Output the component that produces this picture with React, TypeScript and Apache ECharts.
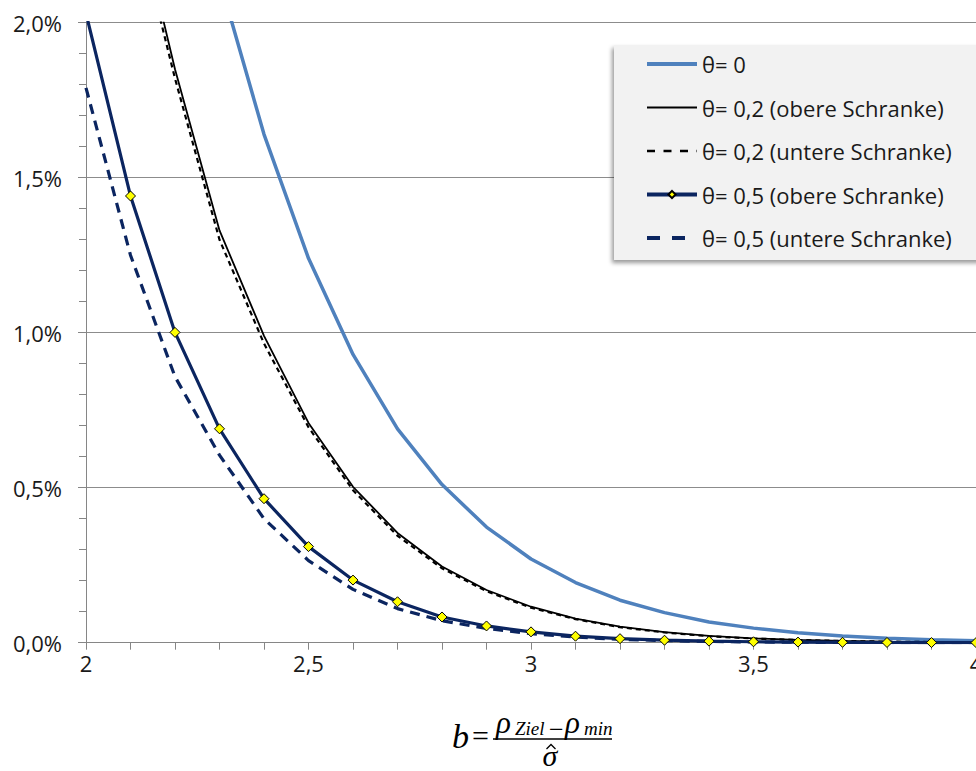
import { useEffect, useRef } from "react";
import * as echarts from "echarts";

// b values (x axis)
const bValues = [2.0, 2.1, 2.2, 2.3, 2.4, 2.5, 2.6, 2.7, 2.8, 2.9, 3.0, 3.1, 3.2, 3.3, 3.4, 3.5, 3.6, 3.7, 3.8, 3.9, 4.0];

// values in percent
const theta0 = [4.55, 3.57, 2.78, 2.14, 1.64, 1.24, 0.93, 0.69, 0.51, 0.373, 0.27, 0.194, 0.137, 0.097, 0.067, 0.047, 0.032, 0.022, 0.014, 0.0096, 0.0063];
const theta02Upper = [3.1, 2.45, 1.85, 1.33, 0.99, 0.709, 0.503, 0.354, 0.246, 0.17, 0.116, 0.078, 0.052, 0.034, 0.022, 0.014, 0.009, 0.006, 0.0037, 0.0023, 0.0014];
const theta02Lower = [3.0, 2.4, 1.82, 1.3, 0.965, 0.695, 0.492, 0.345, 0.24, 0.166, 0.113, 0.076, 0.05, 0.033, 0.021, 0.0135, 0.0087, 0.0055, 0.0035, 0.0022, 0.0014];
const theta05Upper = [2.03, 1.441, 1.001, 0.69, 0.4645, 0.31, 0.202, 0.132, 0.083, 0.054, 0.035, 0.021, 0.013, 0.008, 0.005, 0.003, 0.002, 0.0012, 0.0007, 0.0004, 0.0003];
const theta05Lower = [1.79, 1.25, 0.858, 0.605, 0.4, 0.265, 0.172, 0.11, 0.071, 0.046, 0.029, 0.018, 0.011, 0.007, 0.004, 0.0025, 0.0015, 0.001, 0.0006, 0.0003, 0.0002];

const seriesNames = [
  "θ= 0",
  "θ= 0,2 (obere Schranke)",
  "θ= 0,2 (untere Schranke)",
  "θ= 0,5 (obere Schranke)",
  "θ= 0,5 (untere Schranke)",
];

const pairs = (arr: number[]) => bValues.map((b, i) => [b, arr[i]]);

const NAVY = "#0B2560";
const LIGHT = "#4F81BD";
const SANS = "'Open Sans', 'Noto Sans', sans-serif";
const SERIF = "'Liberation Serif', 'DejaVu Serif', serif";

export default function App() {
  const ref = useRef<HTMLDivElement>(null);

  useEffect(() => {
    if (!ref.current) return;
    const chart = echarts.init(ref.current, undefined, { renderer: "svg" });
    const mathText = (text: string, x: number, y: number, size: number, italic: boolean, align = "left") => ({
      type: "text",
      x,
      y,
      style: {
        text,
        fill: "#000",
        font: `${italic ? "italic " : ""}${size}px ${SERIF}`,
        align,
        verticalAlign: "middle",
      },
    });
    const hidden = { opacity: 0 };
    chart.setOption({
      animation: false,
      backgroundColor: "#ffffff",
      grid: { left: 86, right: 24, top: 22.7, bottom: 128.3, containLabel: false },
      legend: {
        orient: "vertical",
        left: 614,
        top: 45,
        itemWidth: 50,
        itemHeight: 9,
        itemGap: 21.5,
        padding: [8, 120, 11, 31],
        backgroundColor: "#F2F2F2",
        shadowColor: "rgba(0,0,0,0.4)",
        shadowBlur: 4,
        shadowOffsetX: -2,
        shadowOffsetY: 3,
        textStyle: { fontFamily: SANS, fontSize: 22, color: "#1a1a1a" },
        data: [
          { name: seriesNames[0], itemStyle: hidden, lineStyle: { width: 4 } },
          { name: seriesNames[1], itemStyle: hidden, lineStyle: { width: 2 } },
          { name: seriesNames[2], itemStyle: hidden, lineStyle: { width: 2.5, type: [8, 8.5] } },
          { name: seriesNames[3], lineStyle: { width: 4 } },
          { name: seriesNames[4], itemStyle: hidden, lineStyle: { width: 4, type: [13, 12] } },
        ],
      },
      xAxis: {
        type: "value",
        min: 2,
        max: 4,
        interval: 0.5,
        axisLine: { show: true, onZero: false, lineStyle: { color: "#868686", width: 1 } },
        axisTick: { show: true, length: 7, lineStyle: { color: "#868686" } },
        minorTick: { show: true, splitNumber: 5, length: 7, lineStyle: { color: "#868686" } },
        splitLine: { show: false },
        axisLabel: {
          fontFamily: SANS,
          fontSize: 22,
          color: "#1a1a1a",
          margin: 9,
          formatter: (v: number) => String(v).replace(".", ","),
        },
      },
      yAxis: {
        type: "value",
        min: 0,
        max: 2,
        interval: 0.5,
        axisLine: { show: true, lineStyle: { color: "#868686", width: 1 } },
        axisTick: { show: true, length: 8, lineStyle: { color: "#868686" } },
        minorTick: { show: true, splitNumber: 5, length: 7, lineStyle: { color: "#868686" } },
        splitLine: { show: true, lineStyle: { color: "#8c8c8c", width: 1 } },
        axisLabel: {
          fontFamily: SANS,
          fontSize: 22,
          color: "#1a1a1a",
          margin: 24,
          formatter: (v: number) => v.toFixed(1).replace(".", ",") + "%",
        },
      },
      series: [
        {
          name: seriesNames[0],
          type: "line",
          data: pairs(theta0),
          symbol: "none",
          lineStyle: { color: LIGHT, width: 3.5 },
          itemStyle: { color: LIGHT },
        },
        {
          name: seriesNames[1],
          type: "line",
          data: pairs(theta02Upper),
          symbol: "none",
          lineStyle: { color: "#000", width: 1.8 },
          itemStyle: { color: "#000" },
        },
        {
          name: seriesNames[2],
          type: "line",
          data: pairs(theta02Lower),
          symbol: "none",
          lineStyle: { color: "#000", width: 2.2, type: [5, 4] },
          itemStyle: { color: "#000" },
        },
        {
          name: seriesNames[3],
          type: "line",
          data: pairs(theta05Upper),
          symbol: "diamond",
          symbolSize: 10,
          showAllSymbol: true,
          lineStyle: { color: NAVY, width: 3.2 },
          itemStyle: { color: "#FFFF00", borderColor: "#000", borderWidth: 1 },
          z: 4,
        },
        {
          name: seriesNames[4],
          type: "line",
          data: pairs(theta05Lower),
          symbol: "none",
          lineStyle: { color: NAVY, width: 3.2, type: [10, 7] },
          itemStyle: { color: NAVY },
          z: 3,
        },
      ],
      graphic: [
        mathText("b", 452, 736, 34, true),
        mathText("=", 472, 735, 30, false),
        mathText("ρ", 496, 722, 31, true),
        mathText("Ziel", 515, 728.5, 19, true),
        mathText("−", 549, 729, 26, false),
        mathText("ρ", 565, 722, 31, true),
        mathText("min", 584, 728.5, 19, true),
        {
          type: "line",
          shape: { x1: 493, y1: 739, x2: 612, y2: 739 },
          style: { stroke: "#000", lineWidth: 1.5 },
        },
        mathText("σ", 550, 755.5, 30, true, "center"),
        {
          type: "polyline",
          shape: { points: [[546.5, 749], [551, 744.5], [555.5, 749]] },
          style: { stroke: "#000", lineWidth: 1.3, fill: "none" },
        },
      ],
    });
    return () => chart.dispose();
  }, []);

  return (
    <div style={{ position: "fixed", left: 0, top: 0, width: 976, height: 771, overflow: "hidden", background: "#fff" }}>
      <div ref={ref} style={{ width: 1000, height: 771 }} />
    </div>
  );
}
